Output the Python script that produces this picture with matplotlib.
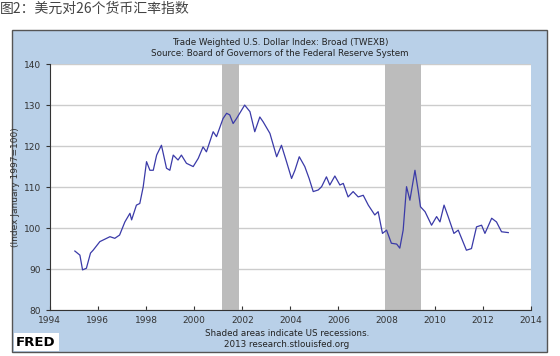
import matplotlib.pyplot as plt
from matplotlib.patches import Rectangle

# dollar index (TWEXB)
years = [1995.04, 1995.25, 1995.36, 1995.52, 1995.69, 1995.8, 1996.08, 1996.5, 1996.7, 1996.9,
         1997.12, 1997.33, 1997.4, 1997.6, 1997.74, 1997.88, 1998.02, 1998.16, 1998.3, 1998.44,
         1998.64, 1998.85, 1998.99, 1999.13, 1999.33, 1999.47, 1999.68, 1999.96, 2000.17, 2000.37,
         2000.51, 2000.79, 2000.93, 2001.2, 2001.35, 2001.48, 2001.62, 2001.76, 2002.1, 2002.32,
         2002.52, 2002.73, 2002.87, 2003.15, 2003.43, 2003.63, 2003.84, 2004.05, 2004.19, 2004.37,
         2004.6, 2004.78, 2004.95, 2005.16, 2005.3, 2005.5, 2005.64, 2005.85, 2006.06, 2006.2,
         2006.4, 2006.61, 2006.82, 2007.03, 2007.24, 2007.51, 2007.65, 2007.83, 2008.0, 2008.2,
         2008.42, 2008.55, 2008.69, 2008.83, 2008.97, 2009.18, 2009.31, 2009.41, 2009.6, 2009.87,
         2010.08, 2010.22, 2010.39, 2010.56, 2010.8, 2010.98, 2011.32, 2011.53, 2011.74, 2011.95,
         2012.09, 2012.37, 2012.57, 2012.78, 2013.06]
index = [94.4, 93.4, 89.8, 90.2, 93.9, 94.6, 96.7, 97.9, 97.5, 98.3,
         101.5, 103.6, 102.0, 105.6, 106.0, 110.0, 116.2, 114.1, 114.1, 117.8,
         120.2, 114.6, 114.1, 117.8, 116.6, 117.8, 115.8, 115.0, 117.0, 119.8,
         118.6, 123.5, 122.3, 126.7, 128.0, 127.6, 125.5, 126.7, 130.0, 128.4,
         123.5, 127.1, 125.9, 123.1, 117.4, 120.2, 116.2, 112.1, 114.1, 117.4,
         115.0, 112.1, 108.9, 109.3, 110.1, 112.5, 110.5, 112.7, 110.5, 110.9,
         107.6, 108.9, 107.6, 108.0, 105.6, 103.2, 104.0, 98.7, 99.5, 96.3,
         96.1, 95.1, 99.5, 110.1, 106.8, 114.1, 109.3, 105.2, 104.0, 100.7,
         102.8, 101.5, 105.6, 102.8, 98.7, 99.5, 94.6, 95.0, 100.3, 100.7,
         98.7, 102.4, 101.5, 99.1, 98.9]

recessions = [(2001.17, 2001.87), (2007.92, 2009.45)]
x_ticks = list(range(1994, 2015, 2))
y_ticks = list(range(80, 141, 10))

fig = plt.figure(figsize=(5.6, 3.56), dpi=100)
fig.patch.set_facecolor('white')

# blue FRED panel
fig.patches.append(Rectangle((0.021, 0.011), 0.956, 0.905, transform=fig.transFigure,
                             facecolor='#b9d0e8', edgecolor='#555555', lw=1, zorder=-2))

fig.text(0.0, 0.975, '图2：美元对26个货币汇率指数', fontsize=10, color='#444444',
         family=['Noto Sans CJK SC', 'DejaVu Sans'], va='center')

ax = fig.add_axes([0.089, 0.129, 0.859, 0.691])
ax.set_facecolor('white')
for a, b in recessions:
    ax.axvspan(a, b, color='#bcbcbc', lw=0, zorder=1)
ax.plot(years, index, color='#3a3aa8', lw=0.9, zorder=3)

ax.set_xlim(1994, 2014)
ax.set_ylim(80, 140)
ax.set_xticks(x_ticks)
ax.set_yticks(y_ticks)
ax.yaxis.grid(True, color='#cccccc', lw=1, zorder=0)
ax.set_axisbelow(True)
ax.tick_params(axis='x', direction='in', length=3, labelsize=6.5, colors='#333333', pad=4)
ax.tick_params(axis='y', direction='out', length=3, labelsize=6.5, colors='#333333')
for s in ['top', 'right']:
    ax.spines[s].set_visible(False)
for s in ['left', 'bottom']:
    ax.spines[s].set_color('#333333')
ax.set_ylabel('(Index January 1997=100)', fontsize=6.5, color='#333333')
ax.yaxis.set_label_coords(-0.062, 0.5)

fig.text(0.5, 0.882, 'Trade Weighted U.S. Dollar Index: Broad (TWEXB)', fontsize=6.3,
         color='#222222', ha='center', va='center')
fig.text(0.5, 0.851, 'Source: Board of Governors of the Federal Reserve System', fontsize=6.3,
         color='#222222', ha='center', va='center')
fig.text(0.512, 0.064, 'Shaded areas indicate US recessions.', fontsize=6.3,
         color='#222222', ha='center', va='center')
fig.text(0.512, 0.031, '2013 research.stlouisfed.org', fontsize=6.3,
         color='#222222', ha='center', va='center')

# FRED logo
fig.patches.append(Rectangle((0.025, 0.014), 0.08, 0.05, transform=fig.transFigure,
                             facecolor='white', edgecolor='none', zorder=-1))
fig.text(0.028, 0.039, 'FRED', fontsize=9.5, weight='bold', color='black', va='center')

fig.savefig('out.png', dpi=100)
